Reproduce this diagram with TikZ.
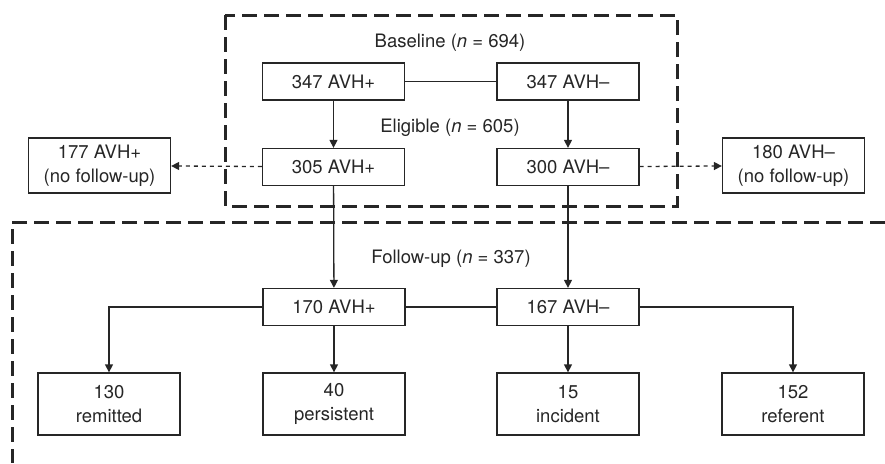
\documentclass[tikz,border=0pt]{standalone}
\usepackage{fontspec}
\setmainfont{TeX Gyre Heros}
\usetikzlibrary{arrows.meta}
\tikzset{
  box/.style={draw=black!85, line width=1.3pt, minimum width=142pt, minimum height=37pt,
    inner sep=0pt, align=center, font=\fontsize{18.5}{24}\selectfont, text=black!85},
  tallbox/.style={box, minimum height=55pt},
  lowbox/.style={box, minimum height=62pt},
  lbl/.style={font=\fontsize{18.5}{24}\selectfont, text=black!85, inner sep=0pt},
  link/.style={draw=black!85, line width=1.3pt},
  arr/.style={link, -{Triangle[length=8pt,width=8pt]}},
  darr/.style={arr, dash pattern=on 4pt off 4pt},
  region/.style={draw=black!85, line width=3pt, dash pattern=on 15pt off 7pt}
}
\begin{document}
\begin{tikzpicture}[x=1pt,y=-1pt]
\useasboundingbox (0,0) rectangle (885,463);
% study phases
\draw[region] (225,15) rectangle (677,206);
\draw[region] (885,222) -- (12,222) -- (12,463);
% baseline
\node[lbl] (lb) at (450,43) {Baseline (\textit{n} = 694)};
\node[box] (b1) at (333.5,81.5) {347 AVH+};
\node[box] (b2) at (568,81.5) {347 AVH\textendash};
% eligible
\node[lbl] (le) at (450,128) {Eligible (\textit{n} = 605)};
\node[box] (e1) at (333.5,167) {305 AVH+};
\node[box] (e2) at (568,167) {300 AVH\textendash};
\node[tallbox] (n1) at (99.5,165.5) {177 AVH+\\(no follow-up)};
\node[tallbox] (n2) at (793.5,165.5) {180 AVH\textendash\\(no follow-up)};
% follow-up
\node[lbl] (lf) at (451,259) {Follow-up (\textit{n} = 337)};
\node[box] (f1) at (334,307) {170 AVH+};
\node[box] (f2) at (568,307) {167 AVH\textendash};
\node[lowbox] (r1) at (109,404) {130\\remitted};
\node[lowbox] (r2) at (334,404) {40\\persistent};
\node[lowbox] (r3) at (568,404) {15\\incident};
\node[lowbox] (r4) at (793,404) {152\\referent};
% connectors
\draw[link] (b1) -- (b2);
\draw[arr] (b1) -- (e1);
\draw[arr] (b2) -- (e2);
\draw[darr] (e1) -- (n1);
\draw[darr] (e2) -- (n2);
\draw[arr] (e1) -- (f1);
\draw[arr] (e2) -- (f2);
\draw[link] (f1) -- (f2);
\draw[arr] (f1.west) -| (r1.north);
\draw[arr] (f1) -- (r2);
\draw[arr] (f2) -- (r3);
\draw[arr] (f2.east) -| (r4.north);
\end{tikzpicture}
\end{document}
